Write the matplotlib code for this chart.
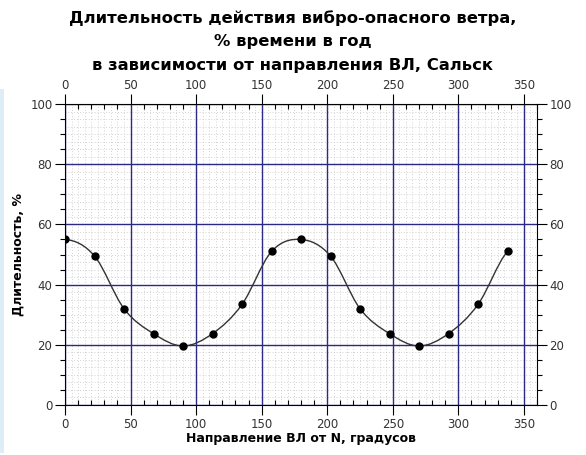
import numpy as np
import matplotlib
matplotlib.use('Agg')
import matplotlib.pyplot as plt
from matplotlib.path import Path
from matplotlib.patches import PathPatch, Rectangle
from matplotlib.ticker import MultipleLocator


# направления (градусы) и длительность (% времени в год)
directions = [0, 22.5, 45, 67.5, 90, 112.5, 135, 157.5,
              180, 202.5, 225, 247.5, 270, 292.5, 315, 337.5]
duration = [55, 49.5, 32, 23.7, 19.6, 23.7, 33.4, 51,
            55, 49.5, 32, 23.7, 19.6, 23.7, 33.4, 51]

title = ('Длительность действия вибро-опасного ветра,\n'
         '% времени в год\n'
         'в зависимости от направления ВЛ, Сальск')
xlabel = 'Направление ВЛ от N, градусов'
ylabel = 'Длительность, %'

NAVY = '#2a2a86'
TICK_COLOR = '#333333'


def smooth_path(xs, ys, period=360.0):
    """Catmull-Rom через точки, замкнутая по направлению (0 = 360)."""
    xs = np.asarray(xs, dtype=float)
    ys = np.asarray(ys, dtype=float)
    n = len(xs)
    # соседние точки с учетом периодичности
    xp = np.concatenate([[xs[-1] - period], xs, [xs[0] + period]])
    yp = np.concatenate([[ys[-1]], ys, [ys[0]]])
    verts = [(xs[0], ys[0])]
    codes = [Path.MOVETO]
    for i in range(1, n):
        p0 = np.array([xp[i - 1], yp[i - 1]])
        p1 = np.array([xp[i], yp[i]])
        p2 = np.array([xp[i + 1], yp[i + 1]])
        p3 = np.array([xp[i + 2], yp[i + 2]])
        c1 = p1 + (p2 - p0) / 6.0
        c2 = p2 - (p3 - p1) / 6.0
        verts += [tuple(c1), tuple(c2), tuple(p2)]
        codes += [Path.CURVE4] * 3
    return Path(verts, codes)


fig = plt.figure(figsize=(5.86, 4.55), dpi=100)
fig.patch.set_facecolor('white')
# светло-голубая полоска слева (как на скриншоте)
fig.patches.append(Rectangle((0, 0.005), 0.007, 0.8, transform=fig.transFigure,
                             facecolor='#dcedf6', edgecolor='none', zorder=0))

ax = fig.add_axes([65 / 586, 50 / 455, 472 / 586, 301 / 455])
ax.set_xlim(0, 360)
ax.set_ylim(0, 100)

# мелкая точечная сетка
ax.vlines(np.arange(5, 360, 5), 0, 100, colors='#c4c4c4',
          linestyles=(0, (1, 2.5)), linewidth=0.6, zorder=1)
ax.hlines(np.arange(2.5, 100, 2.5), 0, 360, colors='#c4c4c4',
          linestyles=(0, (1, 2.5)), linewidth=0.6, zorder=1)

ax.xaxis.set_major_locator(MultipleLocator(50))
ax.xaxis.set_minor_locator(MultipleLocator(10))
ax.yaxis.set_major_locator(MultipleLocator(20))
ax.yaxis.set_minor_locator(MultipleLocator(5))
ax.grid(True, which='major', color=NAVY, linewidth=1.0)
ax.set_axisbelow('line')

ax.tick_params(which='both', top=True, right=True, labeltop=True, labelright=True,
               colors='black', labelcolor=TICK_COLOR, labelsize=8.5, width=0.8)
ax.tick_params(which='major', direction='out', length=7, pad=2)
ax.tick_params(axis='x', which='minor', direction='in', length=3.6)
ax.tick_params(axis='y', which='minor', direction='out', length=3.6)
for spine in ax.spines.values():
    spine.set_linewidth(0.8)

ax.add_patch(PathPatch(smooth_path(directions, duration), facecolor='none',
                       edgecolor='#333333', linewidth=1.0, zorder=3))
ax.plot(directions, duration, 'o', color='black', markersize=5, zorder=4)

ax.set_xlabel(xlabel, fontsize=9, fontweight='bold', labelpad=1)
ax.set_ylabel(ylabel, fontsize=9, fontweight='bold', labelpad=4)
fig.text(0.5, 0.978, title, ha='center', va='top', fontsize=11.8,
         fontweight='bold', linespacing=1.7)

fig.savefig('out.png', dpi=100)
